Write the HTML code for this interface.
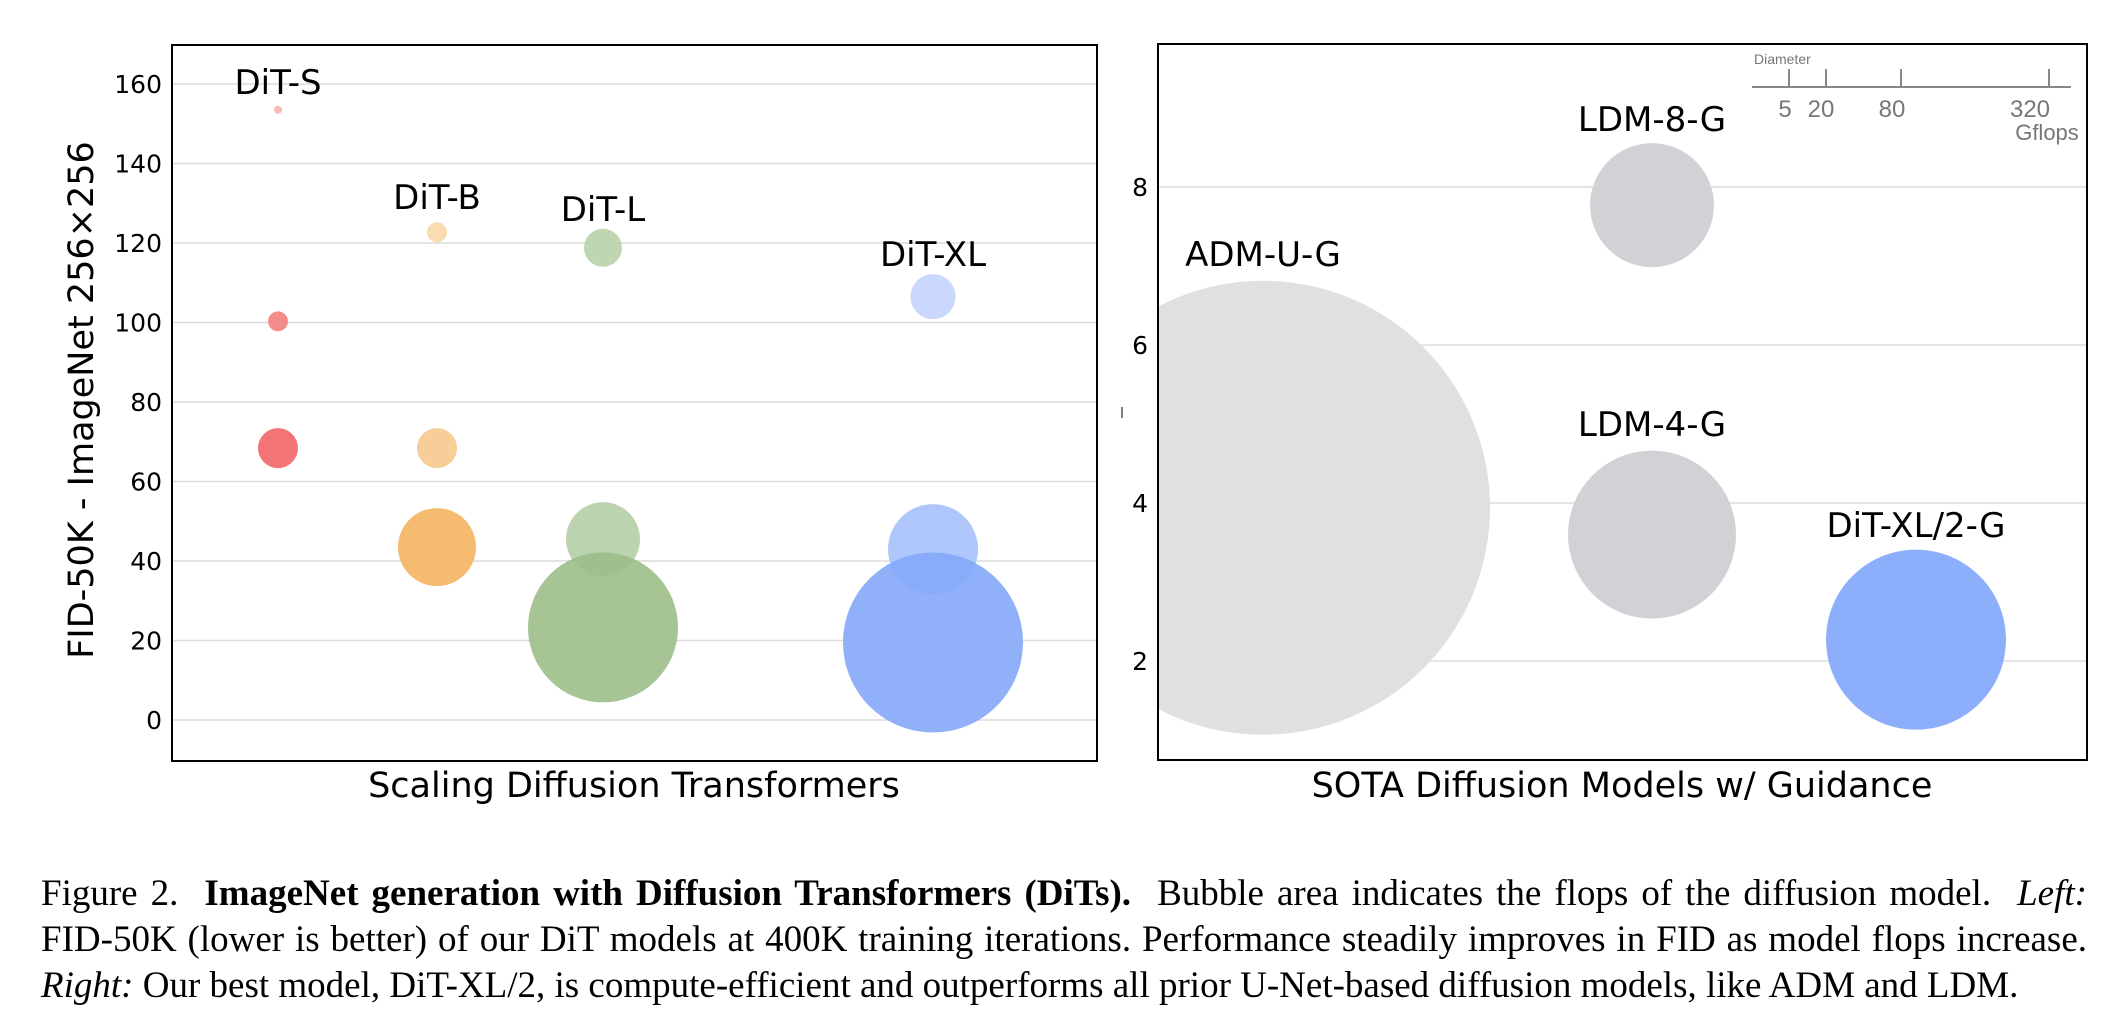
<!DOCTYPE html>
<html><head><meta charset="utf-8"><style>
html,body{margin:0;padding:0;background:#fff;}
body{width:2126px;height:1034px;position:relative;overflow:hidden;}
svg{position:absolute;left:0;top:0;}
.cap{position:absolute;left:41px;width:2046px;font-family:"Liberation Serif",serif;font-size:37px;line-height:46px;color:#000;white-space:nowrap;}
.j{text-align:justify;text-align-last:justify;}
</style></head><body>
<svg id="fig" width="2126" height="830" font-family="'DejaVu Sans','Liberation Sans',sans-serif"></svg>
<div class="cap j" style="top:871px">Figure 2.&nbsp; <b>ImageNet generation with Diffusion Transformers (DiTs).</b>&nbsp; Bubble area indicates the flops of the diffusion model.&nbsp; <i>Left:</i></div>
<div class="cap j" style="top:917px">FID-50K (lower is better) of our DiT models at 400K training iterations. Performance steadily improves in FID as model flops increase.</div>
<div class="cap" style="top:963px"><i>Right:</i> Our best model, DiT-XL/2, is compute-efficient and outperforms all prior U-Net-based diffusion models, like ADM and LDM.</div>
<script>
// Left chart data
const leftGroups = ['DiT-S','DiT-B','DiT-L','DiT-XL'];
const leftFID = [[153.5,100.3,68.4],[122.7,68.4,43.5],[118.8,45.5,23.3],[106.5,43.0,19.5]];
const leftRadius = [[4,10,20],[10,20,39],[19,37,75],[22.5,45,90]];
const leftLabelFID = [160.5,131.6,128.6,117.2];
const leftTicks = [0,20,40,60,80,100,120,140,160];
// Right chart data
const rightModels = ['ADM-U-G','LDM-8-G','LDM-4-G','DiT-XL/2-G'];
const rightFID = [3.94,7.77,3.60,2.27];
const rightRadius = [227,62,84,90];
const rightLabelFID = [7.15,8.86,5.0,3.72];
const rightTicks = [2,4,6,8];
const legendTicks = ['5','20','80','320'];

const NS='http://www.w3.org/2000/svg';
const svg=document.getElementById('fig');
function mk(tag,attrs,parent){const e=document.createElementNS(NS,tag);for(const k in attrs)e.setAttribute(k,attrs[k]);(parent||svg).appendChild(e);return e;}

const L={x0:172,x1:1097,y0:45,y1:761};
const ly=v=>720-(v)*(720-84)/160;
const lxPos=[278,437,603,933];
const lx=i=>lxPos[i];
const defs=mk('defs',{});
const cp=mk('clipPath',{id:'cl'},defs);mk('rect',{x:L.x0,y:L.y0,width:L.x1-L.x0,height:L.y1-L.y0},cp);
const cp2=mk('clipPath',{id:'cr'},defs);mk('rect',{x:1158,y:44,width:929,height:716},cp2);

leftTicks.forEach(t=>{
  const g=mk('line',{x1:L.x0,x2:L.x1,y1:ly(t),y2:ly(t),stroke:'#dcdcdc','stroke-width':1.5});
  
  
  const tx=mk('text',{x:162,y:ly(t)+9,'text-anchor':'end','font-size':25,fill:'#000'});
  tx.textContent=t;
  
  
});
const colors=[['#f9b0b0','#f47f7f','#f26565'],['#f8d8a8','#f6c98c','#f4b460'],['#b8d2aa','#b4cfa6','#9cbe88'],['#c3d4fc','#a6c0fb','#84a8fa']];
const gl=mk('g',{'clip-path':'url(#cl)'});
leftGroups.forEach((g,i)=>{
  leftFID[i].forEach((v,j)=>{
    const c=mk('circle',{cx:lx(i),cy:ly(v),r:leftRadius[i][j],fill:colors[i][j],'fill-opacity':0.9},gl);
    
    
  });
});
leftGroups.forEach((g,i)=>{
  const t=mk('text',{x:lx(i),y:ly(leftLabelFID[i])+12,'text-anchor':'middle','font-size':34,fill:'#000'});
  t.textContent=g;
  
  
});
const lf=mk('rect',{x:L.x0,y:L.y0,width:L.x1-L.x0,height:L.y1-L.y0,fill:'none',stroke:'#000','stroke-width':2});


const yt=mk('text',{x:0,y:0,transform:'translate(93,400) rotate(-90)','text-anchor':'middle','font-size':35,fill:'#000'});
yt.textContent='FID-50K - ImageNet 256×256';


const xt=mk('text',{x:634,y:797,'text-anchor':'middle','font-size':35,fill:'#000'});
xt.textContent='Scaling Diffusion Transformers';



const R={x0:1158,x1:2087,y0:44,y1:760};
const ry=v=>503-(v-4)*79;
const rxPos=[1263,1652,1652,1916];
const rx=i=>rxPos[i];
rightTicks.forEach(t=>{
  const g=mk('line',{x1:R.x0,x2:R.x1,y1:ry(t),y2:ry(t),stroke:'#dcdcdc','stroke-width':1.5});
  
  
  const tx=mk('text',{x:1148,y:ry(t)+9,'text-anchor':'end','font-size':25,fill:'#000'});
  tx.textContent=t;
  
  
});
const rcol=['#e0e0e2','#d2d2d6','#d2d2d6','#8caefb'];
const gr=mk('g',{'clip-path':'url(#cr)'});
rightModels.forEach((m,i)=>{
  const c=mk('circle',{cx:rx(i),cy:ry(rightFID[i]),r:rightRadius[i],fill:rcol[i]},gr);
  
  
  const t=mk('text',{x:rx(i),y:ry(rightLabelFID[i])+12,'text-anchor':'middle','font-size':34,fill:'#000'});
  t.textContent=m;
  
  
});
const rf=mk('rect',{x:R.x0,y:R.y0,width:R.x1-R.x0,height:R.y1-R.y0,fill:'none',stroke:'#000','stroke-width':2});


mk('line',{x1:1122,x2:1122,y1:407,y2:418,stroke:'#555','stroke-width':1.5});
const xt2=mk('text',{x:1622,y:797,'text-anchor':'middle','font-size':35,fill:'#000'});
xt2.textContent='SOTA Diffusion Models w/ Guidance';



const lg=mk('g',{'font-family':"'Liberation Sans',sans-serif",fill:'#777'});


const dt=mk('text',{x:1754,y:64,'font-size':14,fill:'#777'},lg);dt.textContent='Diameter';
mk('line',{x1:1752,x2:2071,y1:87,y2:87,stroke:'#888','stroke-width':2},lg);
const tickX=[1789,1826,1901,2049];
const labX=[1785,1821,1892,2030];
legendTicks.forEach((t,i)=>{
  mk('line',{x1:tickX[i],x2:tickX[i],y1:69,y2:87,stroke:'#888','stroke-width':2},lg);
  const tx=mk('text',{x:labX[i],y:117,'text-anchor':'middle','font-size':24,fill:'#777'},lg);
  tx.textContent=t;
});
const gf=mk('text',{x:2047,y:140,'text-anchor':'middle','font-size':22,fill:'#777'},lg);gf.textContent='Gflops';
</script>
</body></html>
